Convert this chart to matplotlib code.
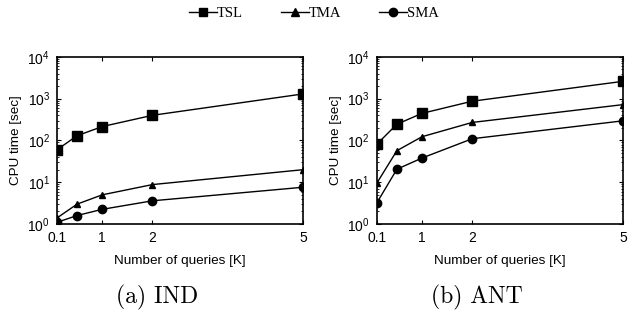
import matplotlib.pyplot as plt
from matplotlib.lines import Line2D

plt.rcParams['font.family'] = 'Liberation Sans'
plt.rcParams['mathtext.fontset'] = 'custom'
plt.rcParams['mathtext.rm'] = 'Liberation Sans'

# data
queries = [0.1, 0.5, 1, 2, 5]
xticks = [0.1, 1, 2, 5]
xticklabels = ['0.1', '1', '2', '5']

ind_tsl = [60, 130, 215, 400, 1300]
ind_tma = [1.4, 3.0, 5.0, 8.8, 20]
ind_sma = [1.1, 1.6, 2.25, 3.6, 7.6]

ant_tsl = [81, 245, 445, 870, 2600]
ant_tma = [9.5, 57, 123, 270, 720]
ant_sma = [3.2, 20.5, 38, 110, 295]

series_names = ['TSL', 'TMA', 'SMA']
markers = ['s', '^', 'o']
msizes = [7, 5, 6]

fig = plt.figure(figsize=(6.28, 3.16), dpi=100)
ax1 = fig.add_axes([0.0908, 0.291, 0.392, 0.529])
ax2 = fig.add_axes([0.600, 0.291, 0.392, 0.529])

panels = [(ax1, [ind_tsl, ind_tma, ind_sma], '(a) IND'),
          (ax2, [ant_tsl, ant_tma, ant_sma], '(b) ANT')]

for ax, data, caption in panels:
    for vals, m, ms in zip(data, markers, msizes):
        ax.plot(queries, vals, color='black', lw=1, marker=m, ms=ms)
    ax.set_yscale('log')
    ax.set_ylim(1, 1e4)
    ax.set_xlim(0.1, 5)
    ax.set_xticks(xticks)
    ax.set_xticklabels(xticklabels)
    ax.tick_params(which='both', direction='in', top=True, right=True, labelsize=10)
    ax.tick_params(which='major', length=3, pad=5)
    ax.tick_params(which='minor', length=1.5)
    ax.set_xlabel('Number of queries [K]', fontsize=9.7, labelpad=7)
    ax.set_ylabel('CPU time [sec]', fontsize=9.7, labelpad=4)
    for s in ax.spines.values():
        s.set_linewidth(1.2)
    ax.text(0.407, -0.44, caption, transform=ax.transAxes, ha='center', va='center',
            fontsize=17, family='cmr10')

handles = [Line2D([], [], color='black', lw=1, marker=m, ms=6) for m in markers]
fig.legend(handles, series_names, loc='center', bbox_to_anchor=(0.5, 0.957), ncol=3,
           frameon=False, handlelength=1.9, handletextpad=0.0, columnspacing=2.6,
           prop={'family': 'Liberation Serif', 'size': 10.5})

fig.savefig('out.png')
